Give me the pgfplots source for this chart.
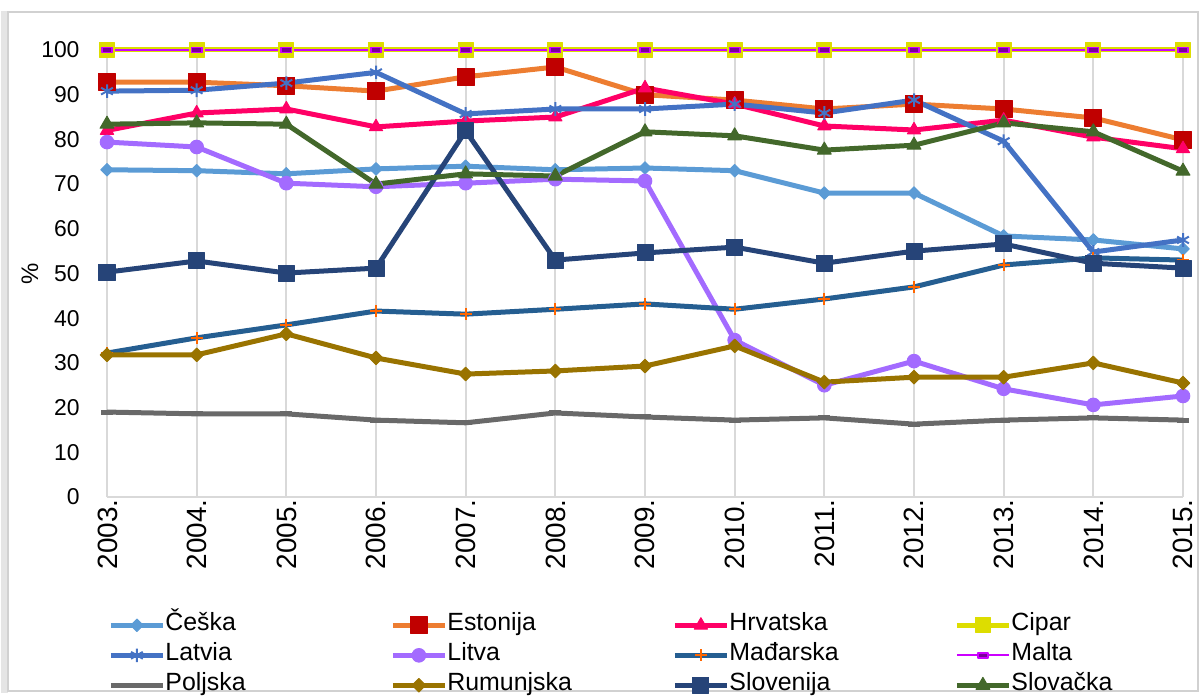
\documentclass[border=0pt]{standalone}
\usepackage{fontspec}
\setmainfont{Liberation Sans}
\usepackage{pgfplots}
\pgfplotsset{compat=1.18}

\definecolor{gridc}{HTML}{D9D9D9}
\definecolor{ceska}{HTML}{5B9BD5}
\definecolor{estl}{HTML}{ED7D31}
\definecolor{estm}{HTML}{C00000}
\definecolor{hrv}{HTML}{FF0066}
\definecolor{cip}{HTML}{DDDD00}
\definecolor{lat}{HTML}{4472C4}
\definecolor{lit}{HTML}{A36BFF}
\definecolor{madl}{HTML}{255E91}
\definecolor{madm}{HTML}{FF6600}
\definecolor{mal}{HTML}{CC00FF}
\definecolor{polj}{HTML}{696969}
\definecolor{rum}{HTML}{997300}
\definecolor{slv}{HTML}{264478}
\definecolor{slk}{HTML}{43682B}

\begin{document}
\begin{tikzpicture}
\path[use as bounding box] (0,0) rectangle (600bp,348.5bp);
\fill[black!10] (0.5bp,2bp) rectangle (4bp,343bp);
\draw[black!18, line width=1bp] (4bp,3bp) rectangle (599bp,342.5bp);
\begin{axis}[
  at={(53.5bp,100bp)}, anchor=south west,
  scale only axis, width=538bp, height=223.5bp,
  xmin=2003, xmax=2015, ymin=0, ymax=100,
  xtick={2003,...,2015},
  xticklabels={2003.,2004.,2005.,2006.,2007.,2008.,2009.,2010.,2011.,2012.,2013.,2014.,2015.},
  ytick={0,10,...,100},
  xmajorgrids, grid style={gridc, line width=1bp},
  axis x line*=bottom, axis y line*=left,
  x axis line style={gridc, line width=1bp, -},
  y axis line style={draw=none},
  major tick length=0pt,
  /pgf/number format/assume math mode=true,
  yticklabel style={inner sep=0pt, xshift=-12.5bp, font=\fontsize{11.5}{13}\selectfont},
  xticklabel style={rotate=90, anchor=east, inner sep=0pt, text height=10bp, text depth=0pt, font=\fontsize{14}{16}\selectfont},
  ylabel={\%},
  ylabel style={at={(axis description cs:-0.0716,0.5)}, rotate=0, anchor=center, font=\fontsize{12}{14}\selectfont},
  clip=false,
  line width=2.5bp,
  every axis plot/.append style={line join=round},
  legend columns=4,
  legend style={at={(-0.001,-0.258)}, anchor=north west, draw=none, fill=none, inner sep=0pt,
    font=\fontsize{12.5}{14}\selectfont, column sep=0pt, row sep=4.5bp,
    nodes={inner sep=0pt, anchor=west, text height=8bp, text depth=2.5bp}},
  legend image code/.code={\draw[mark repeat=2,mark phase=2] plot coordinates {(0bp,0bp) (13bp,0bp) (26bp,0bp)};},
]
\addplot[ceska, mark=square*, mark size=2.2bp, mark options={rotate=45, line width=0.5bp, fill=ceska}] coordinates {
(2003,73.2) (2004,73.0) (2005,72.3) (2006,73.4) (2007,74.0) (2008,73.2) (2009,73.6) (2010,73.0) (2011,68.0) (2012,68.0) (2013,58.4) (2014,57.5) (2015,55.5)};
\addplot[estl, mark=square*, mark size=4.2bp, mark options={estm, fill=estm, line width=0.5bp}] coordinates {
(2003,92.8) (2004,92.8) (2005,92.0) (2006,90.8) (2007,94.0) (2008,96.2) (2009,90.0) (2010,88.8) (2011,86.8) (2012,87.9) (2013,86.8) (2014,84.8) (2015,79.9)};
\addplot[hrv, mark=triangle*, mark size=3.8bp, mark options={fill=hrv, line width=0.5bp}] coordinates {
(2003,82.0) (2004,85.9) (2005,86.8) (2006,82.8) (2007,84.1) (2008,85.0) (2009,91.5) (2010,87.9) (2011,83.0) (2012,82.1) (2013,84.3) (2014,80.5) (2015,77.9)};
\addplot[cip, mark=square*, mark size=3.7bp, mark options={fill=cip, line width=0.5bp}] coordinates {
(2003,100) (2004,100) (2005,100) (2006,100) (2007,100) (2008,100) (2009,100) (2010,100) (2011,100) (2012,100) (2013,100) (2014,100) (2015,100)};
\addplot[lat, mark=asterisk, mark size=3.4bp, mark options={line width=1bp}] coordinates {
(2003,90.8) (2004,91.0) (2005,92.6) (2006,95.0) (2007,85.7) (2008,86.8) (2009,86.8) (2010,87.9) (2011,85.9) (2012,88.8) (2013,79.6) (2014,54.8) (2015,57.5)};
\addplot[lit, mark=*, mark size=3.4bp, mark options={fill=lit, line width=0.5bp}] coordinates {
(2003,79.4) (2004,78.3) (2005,70.2) (2006,69.4) (2007,70.2) (2008,71.1) (2009,70.7) (2010,35.1) (2011,25.0) (2012,30.4) (2013,24.2) (2014,20.6) (2015,22.6)};
\addplot[madl, mark=+, mark size=3bp, mark options={madm, line width=1bp}] coordinates {
(2003,32.2) (2004,35.6) (2005,38.5) (2006,41.6) (2007,40.9) (2008,42.0) (2009,43.2) (2010,42.0) (2011,44.3) (2012,47.0) (2013,51.9) (2014,53.5) (2015,53.0)};
\addplot[mal, line width=1bp, mark=square*, mark size=1.3bp, mark options={xscale=2, fill=mal!60!black, draw=mal, line width=0.8bp}] coordinates {
(2003,100) (2004,100) (2005,100) (2006,100) (2007,100) (2008,100) (2009,100) (2010,100) (2011,100) (2012,100) (2013,100) (2014,100) (2015,100)};
\addplot[polj, mark=-, mark size=3bp, mark options={line width=2.5bp}] coordinates {
(2003,19.0) (2004,18.6) (2005,18.6) (2006,17.2) (2007,16.6) (2008,18.8) (2009,17.9) (2010,17.2) (2011,17.7) (2012,16.3) (2013,17.2) (2014,17.7) (2015,17.2)};
\addplot[rum, mark=square*, mark size=2.4bp, mark options={rotate=45, fill=rum, line width=0.5bp}] coordinates {
(2003,31.8) (2004,31.8) (2005,36.5) (2006,31.1) (2007,27.5) (2008,28.2) (2009,29.3) (2010,33.8) (2011,25.7) (2012,26.8) (2013,26.8) (2014,30.0) (2015,25.5)};
\addplot[slv, mark=square*, mark size=4bp, mark options={fill=slv, line width=0.5bp}] coordinates {
(2003,50.3) (2004,52.8) (2005,50.1) (2006,51.2) (2007,81.9) (2008,53.0) (2009,54.6) (2010,55.9) (2011,52.3) (2012,55.0) (2013,56.6) (2014,52.3) (2015,51.2)};
\addplot[slk, mark=triangle*, mark size=4bp, mark options={fill=slk, line width=0.5bp}] coordinates {
(2003,83.4) (2004,83.7) (2005,83.4) (2006,70.0) (2007,72.3) (2008,71.8) (2009,81.7) (2010,80.8) (2011,77.6) (2012,78.7) (2013,83.7) (2014,81.7) (2015,72.9)};
\legend{\makebox[112.5bp][l]{Češka},\makebox[112.5bp][l]{Estonija},\makebox[112.5bp][l]{Hrvatska},\makebox[112.5bp][l]{Cipar},
\makebox[112.5bp][l]{Latvia},\makebox[112.5bp][l]{Litva},\makebox[112.5bp][l]{Mađarska},\makebox[112.5bp][l]{Malta},
\makebox[112.5bp][l]{Poljska},\makebox[112.5bp][l]{Rumunjska},\makebox[112.5bp][l]{Slovenija},\makebox[112.5bp][l]{Slovačka}}
\end{axis}
\end{tikzpicture}
\end{document}
